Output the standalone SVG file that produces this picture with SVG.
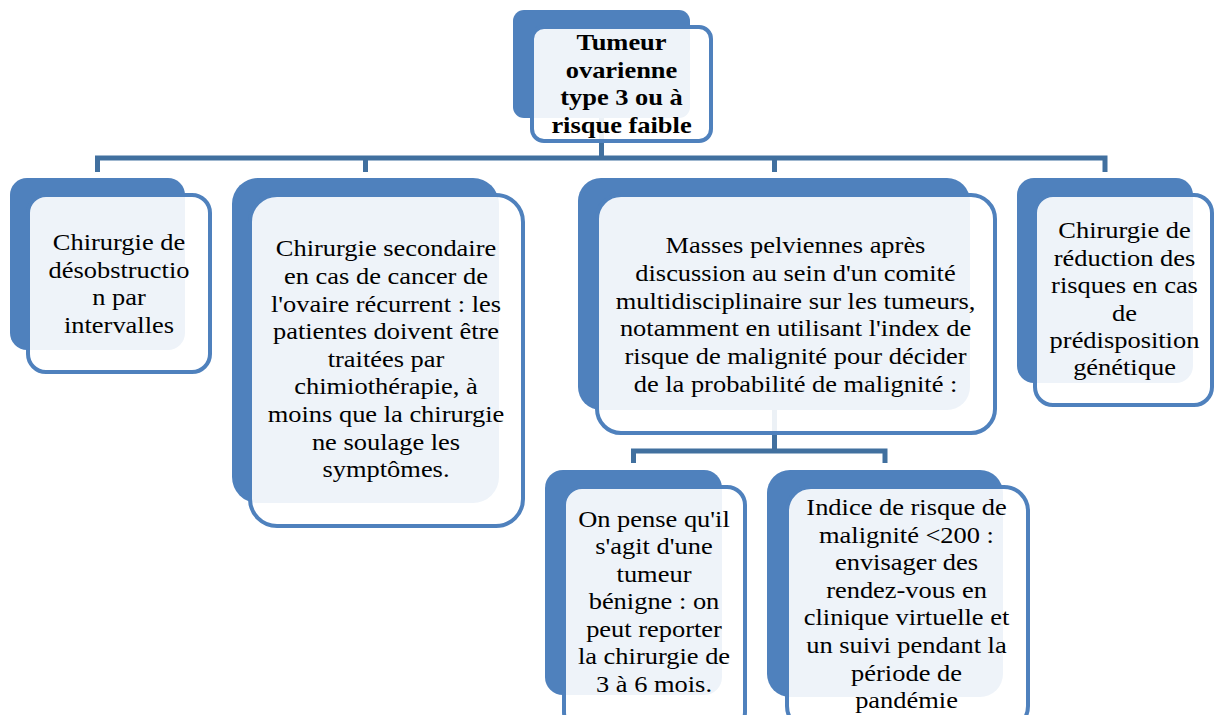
<svg xmlns="http://www.w3.org/2000/svg" width="1215" height="715" viewBox="0 0 1215 715">
<style>
.back{fill:#4F81BD;}
.front{fill:#FFFFFF;fill-opacity:0.9;stroke:#4F81BD;stroke-width:4;}
.conn{fill:none;stroke:#41709F;stroke-width:5;stroke-linejoin:miter;}
.t{font-family:"Liberation Serif","Times New Roman",serif;font-size:23px;fill:#000;text-anchor:middle;}
.b{font-weight:bold;}
</style>
<rect width="1215" height="715" fill="#FFFFFF"/>
<g id="backs">
<rect class="back" x="513" y="10" width="177" height="108" rx="11"/>
<rect class="back" x="10" y="178" width="175" height="172" rx="17"/>
<rect class="back" x="232" y="178" width="267" height="325" rx="26"/>
<rect class="back" x="578" y="178" width="392" height="232" rx="23"/>
<rect class="back" x="1017" y="178" width="176" height="205" rx="17"/>
<rect class="back" x="545" y="470" width="177" height="225" rx="18"/>
<rect class="back" x="767" y="470" width="236" height="227" rx="23"/>
</g>
<g id="connectors">
<path class="conn" d="M601.5,118 V158"/>
<path class="conn" d="M97.5,172 V158 H1105 V172"/>
<path class="conn" d="M365.5,158 V172"/>
<path class="conn" d="M774.5,158 V172"/>
<path class="conn" d="M774.5,410 V451"/>
<path class="conn" d="M633.5,463 V451 H885 V463"/>
</g>
<g id="node-root">
<rect class="front" x="532" y="27" width="179" height="114" rx="12"/>
<text class="t b" transform="translate(621.5 0) scale(1.15 1)"><tspan x="0" y="50">Tumeur</tspan><tspan x="0" y="77.6">ovarienne</tspan><tspan x="0" y="105.4">type 3 ou à</tspan><tspan x="0" y="133.2">risque faible</tspan></text>
</g>
<g id="node-1">
<rect class="front" x="28" y="195" width="182" height="177" rx="18"/>
<text class="t" transform="translate(119 0) scale(1.15 1)"><tspan x="0" y="250">Chirurgie de</tspan><tspan x="0" y="277.6">désobstructio</tspan><tspan x="0" y="305.2">n par</tspan><tspan x="0" y="332.8">intervalles</tspan></text>
</g>
<g id="node-2">
<rect class="front" x="250" y="195" width="273" height="331" rx="27"/>
<text class="t" transform="translate(386 0) scale(1.15 1)"><tspan x="0" y="256.5">Chirurgie secondaire</tspan><tspan x="0" y="284.1">en cas de cancer de</tspan><tspan x="0" y="311.7">l'ovaire récurrent : les</tspan><tspan x="0" y="339.3">patientes doivent être</tspan><tspan x="0" y="366.9">traitées par</tspan><tspan x="0" y="394.5">chimiothérapie, à</tspan><tspan x="0" y="422.1">moins que la chirurgie</tspan><tspan x="0" y="449.7">ne soulage les</tspan><tspan x="0" y="477.3">symptômes.</tspan></text>
</g>
<g id="node-3">
<rect class="front" x="597" y="195" width="398" height="238" rx="24"/>
<text class="t" transform="translate(795.5 0) scale(1.15 1)"><tspan x="0" y="253.3">Masses pelviennes après</tspan><tspan x="0" y="281">discussion au sein d'un comité</tspan><tspan x="0" y="308.7">multidisciplinaire sur les tumeurs,</tspan><tspan x="0" y="336.4">notamment en utilisant l'index de</tspan><tspan x="0" y="364.1">risque de malignité pour décider</tspan><tspan x="0" y="391.8">de la probabilité de malignité :</tspan></text>
</g>
<g id="node-4">
<rect class="front" x="1035" y="195" width="177" height="210" rx="18"/>
<text class="t" transform="translate(1124.5 0) scale(1.15 1)"><tspan x="0" y="238.3">Chirurgie de</tspan><tspan x="0" y="265.7">réduction des</tspan><tspan x="0" y="293.1">risques en cas</tspan><tspan x="0" y="320.5">de</tspan><tspan x="0" y="347.9">prédisposition</tspan><tspan x="0" y="375.3">génétique</tspan></text>
</g>
<g id="node-5">
<rect class="front" x="564" y="487" width="181" height="243" rx="18"/>
<text class="t" transform="translate(654 0) scale(1.15 1)"><tspan x="0" y="526.7">On pense qu'il</tspan><tspan x="0" y="554.2">s'agit d'une</tspan><tspan x="0" y="581.7">tumeur</tspan><tspan x="0" y="609.2">bénigne : on</tspan><tspan x="0" y="636.7">peut reporter</tspan><tspan x="0" y="664.2">la chirurgie de</tspan><tspan x="0" y="691.7">3 à 6 mois.</tspan></text>
</g>
<g id="node-6">
<rect class="front" x="787" y="487" width="241" height="243" rx="24"/>
<text class="t" transform="translate(906.5 0) scale(1.15 1)"><tspan x="0" y="515">Indice de risque de</tspan><tspan x="0" y="542.6">malignité &lt;200 :</tspan><tspan x="0" y="570.2">envisager des</tspan><tspan x="0" y="597.8">rendez-vous en</tspan><tspan x="0" y="625.4">clinique virtuelle et</tspan><tspan x="0" y="653">un suivi pendant la</tspan><tspan x="0" y="680.6">période de</tspan><tspan x="0" y="708.2">pandémie</tspan></text>
</g>
</svg>
